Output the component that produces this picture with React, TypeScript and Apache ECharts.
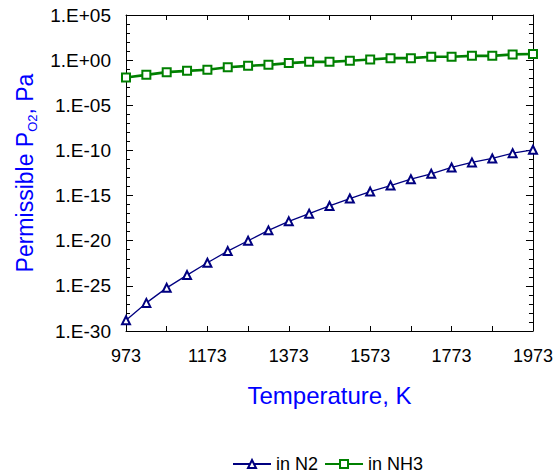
import React, { useEffect, useRef } from "react";
import * as echarts from "echarts";

const temperatures = [973, 1023, 1073, 1123, 1173, 1223, 1273, 1323, 1373, 1423, 1473, 1523, 1573, 1623, 1673, 1723, 1773, 1823, 1873, 1923, 1973];
const inN2 = [1.55e-29, 1.3e-27, 6.0e-26, 1.55e-24, 3.6e-23, 7.1e-22, 1.0e-20, 1.4e-19, 1.4e-18, 1.0e-17, 7.1e-17, 4.7e-16, 2.75e-15, 1.3e-14, 6.5e-14, 2.6e-13, 1.3e-12, 4.7e-12, 1.3e-11, 5.0e-11, 1.17e-10];
const inNH3 = [0.0117, 0.0234, 0.047, 0.065, 0.085, 0.166, 0.234, 0.3, 0.47, 0.65, 0.65, 0.85, 1.17, 1.66, 1.66, 2.34, 2.34, 3.0, 3.0, 4.3, 4.7];
const seriesNames = ["in N2", "in NH3"];
const xTitle = "Temperature, K";
const yTitle = "Permissible P{sub|O2}, Pa";
// y axis: decimal exponents (log10 of Pa), from 1.E-30 to 1.E+05
const yExpMin = -30;
const yExpMax = 5;
const yExpStep = 5;

const FONT = "'Liberation Sans', Arial, sans-serif";

function fmtExp(e: number): string {
  const r = Math.round(e);
  return "1.E" + (r >= 0 ? "+" : "-") + String(Math.abs(r)).padStart(2, "0");
}

export default function App() {
  const ref = useRef<HTMLDivElement>(null);
  useEffect(() => {
    if (!ref.current) return;
    const chart = echarts.init(ref.current, undefined, { renderer: "svg" });
    const axisLine = { show: true, onZero: false, lineStyle: { color: "#000", width: 1 } };
    const yCommon = {
      type: "value",
      min: yExpMin,
      max: yExpMax,
      interval: yExpStep,
      axisLine,
      axisTick: { show: true, inside: true, length: 7, lineStyle: { color: "#000" } },
      minorTick: { show: true, splitNumber: 5, length: 4, lineStyle: { color: "#000" } },
      splitLine: { show: false },
      minorSplitLine: { show: false },
    };
    chart.setOption({
      animation: false,
      backgroundColor: "#fff",
      textStyle: { fontFamily: FONT },
      grid: { left: 126, right: 23, top: 15, bottom: 143, containLabel: false },
      legend: {
        top: 450,
        left: 227,
        itemWidth: 38,
        itemHeight: 10,
        itemGap: 6,
        textStyle: { fontSize: 18, color: "#000", fontFamily: FONT },
        data: seriesNames,
      },
      xAxis: [
        {
          type: "value",
          min: 973,
          max: 1973,
          interval: 100,
          position: "bottom",
          axisLine,
          axisTick: { show: true, inside: true, length: 5, lineStyle: { color: "#000" } },
          axisLabel: {
            margin: 16,
            fontSize: 18,
            color: "#000",
            fontFamily: FONT,
            formatter: (v: number) => ((Math.round(v) - 973) % 200 === 0 ? String(Math.round(v)) : ""),
          },
          splitLine: { show: false },
          name: xTitle,
          nameLocation: "middle",
          nameGap: 52,
          nameTextStyle: { fontSize: 24, color: "#0000ff", fontFamily: FONT },
        },
        {
          type: "value",
          min: 973,
          max: 1973,
          interval: 100,
          position: "top",
          axisLine,
          axisTick: { show: true, inside: true, length: 5, lineStyle: { color: "#000" } },
          axisLabel: { show: false },
          splitLine: { show: false },
        },
      ],
      yAxis: [
        {
          ...yCommon,
          position: "left",
          axisLabel: { margin: 15, fontSize: 19, color: "#000", fontFamily: FONT, formatter: fmtExp },
          name: yTitle,
          nameLocation: "middle",
          nameGap: 86,
          nameRotate: 90,
          nameTextStyle: {
            fontSize: 23,
            color: "#0000ff",
            fontFamily: FONT,
            lineHeight: 28,
            rich: {
              sub: { fontSize: 13, color: "#0000ff", fontFamily: FONT, verticalAlign: "bottom", lineHeight: 14 },
            },
          },
        },
        {
          ...yCommon,
          position: "right",
          axisLabel: { show: false },
        },
      ],
      series: [
        {
          name: seriesNames[0],
          type: "line",
          xAxisIndex: 0,
          yAxisIndex: 0,
          data: temperatures.map((t, i) => [t, Math.log10(inN2[i])]),
          symbol: "emptyTriangle",
          symbolSize: 8,
          color: "#000080",
          lineStyle: { color: "#000080", width: 1.3 },
          itemStyle: { color: "#000080", borderColor: "#000080", borderWidth: 1.3 },
        },
        {
          name: seriesNames[1],
          type: "line",
          xAxisIndex: 0,
          yAxisIndex: 0,
          data: temperatures.map((t, i) => [t, Math.log10(inNH3[i])]),
          symbol: "emptyRect",
          symbolSize: 8,
          color: "#008000",
          lineStyle: { color: "#008000", width: 2.6 },
          itemStyle: { color: "#008000", borderColor: "#008000", borderWidth: 1.3 },
        },
      ],
    });
    return () => chart.dispose();
  }, []);
  return <div ref={ref} style={{ width: 556, height: 474, position: "absolute", left: 0, top: 0 }} />;
}
